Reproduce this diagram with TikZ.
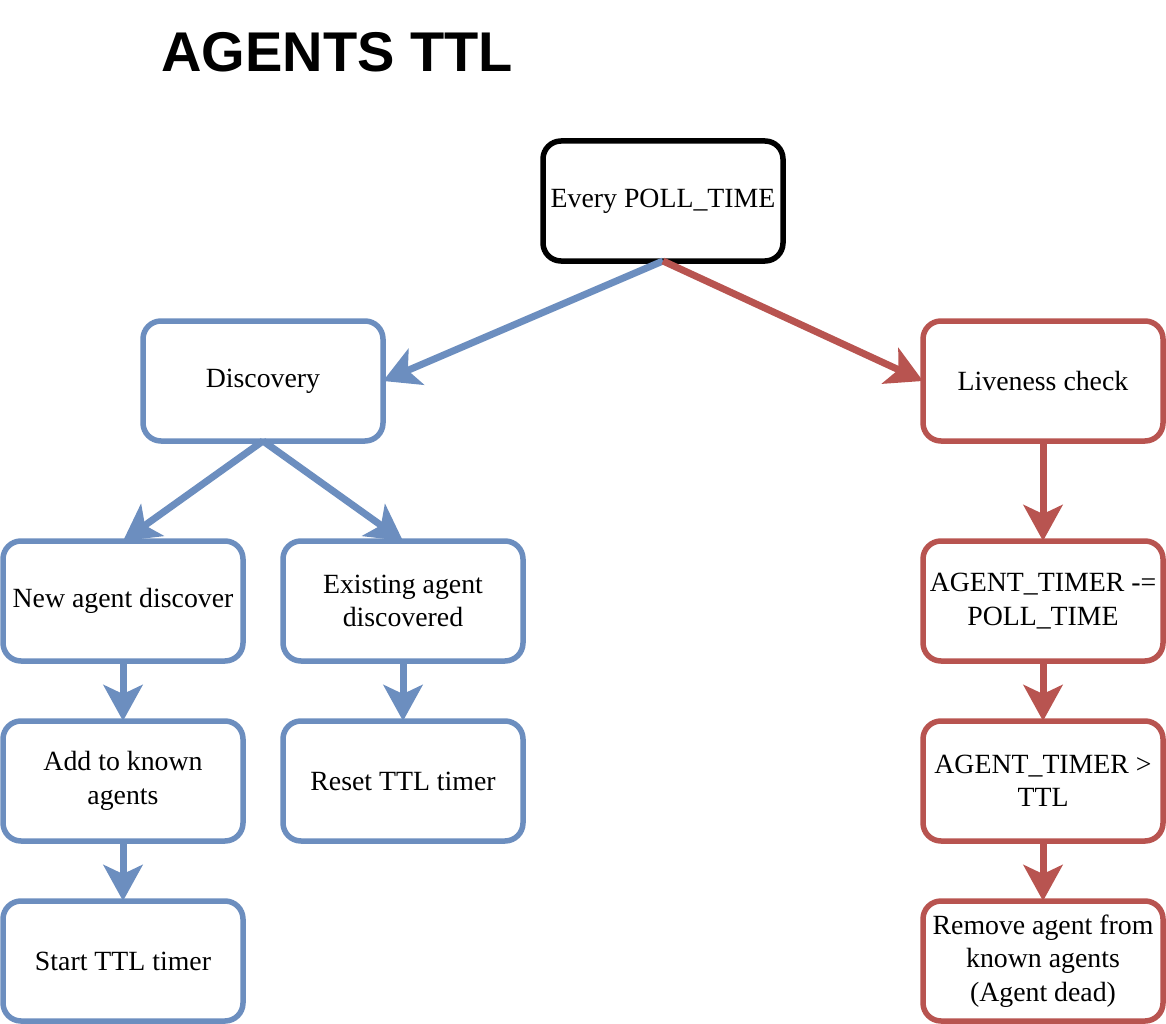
\documentclass[tikz,border=0pt]{standalone}
\usepackage{fontspec}
\setmainfont{Liberation Serif}
\newfontfamily\titlefont{Liberation Sans}
\usetikzlibrary{arrows.meta}
\definecolor{bluec}{HTML}{6C8EBF}
\definecolor{redc}{HTML}{B85450}
\tikzset{
  box/.style={draw, line width=5.5pt, rounded corners=18pt, minimum width=240pt, minimum height=120pt,
    inner sep=0pt, outer sep=0pt, align=center, font=\fontsize{27.8}{33.5}\selectfont, fill=white},
  bbox/.style={box, draw=bluec},
  rbox/.style={box, draw=redc},
  kbox/.style={box, draw=black},
  conn/.style={line width=7pt, -{Stealth[length=36pt, width=39pt, inset=9pt]}},
  bconn/.style={conn, draw=bluec, fill=bluec},
  rconn/.style={conn, draw=redc, fill=redc},
}
\begin{document}
\begin{tikzpicture}[x=1pt, y=-1pt]
\useasboundingbox (0,0) rectangle (1166,1024);
\node[font=\titlefont\bfseries\fontsize{56}{68}\selectfont] (title) at (337,52) {AGENTS TTL};
\node[kbox] (poll) at (663,201) {Every POLL\_TIME};
\node[bbox] (disc) at (263,381) {Discovery};
\node[rbox] (live) at (1043,381) {Liveness check};
\node[bbox] (new) at (123,601) {New agent discover};
\node[bbox] (exist) at (403,601) {Existing agent\\discovered};
\node[rbox] (dec) at (1043,601) {AGENT\_TIMER -=\\POLL\_TIME};
\node[bbox] (add) at (123,781) {Add to known\\agents};
\node[bbox] (reset) at (403,781) {Reset TTL timer};
\node[rbox] (cmp) at (1043,781) {AGENT\_TIMER >\\TTL};
\node[bbox] (start) at (123,961) {Start TTL timer};
\node[rbox] (remove) at (1043,961) {Remove agent from\\known agents\\(Agent dead)};
\draw[bconn] (poll.south) -- (disc.east);
\draw[rconn] (poll.south) -- (live.west);
\draw[bconn] (disc.south) -- (new.north);
\draw[bconn] (disc.south) -- (exist.north);
\draw[bconn] (new) -- (add);
\draw[bconn] (add) -- (start);
\draw[bconn] (exist) -- (reset);
\draw[rconn] (live) -- (dec);
\draw[rconn] (dec) -- (cmp);
\draw[rconn] (cmp) -- (remove);
\end{tikzpicture}
\end{document}
